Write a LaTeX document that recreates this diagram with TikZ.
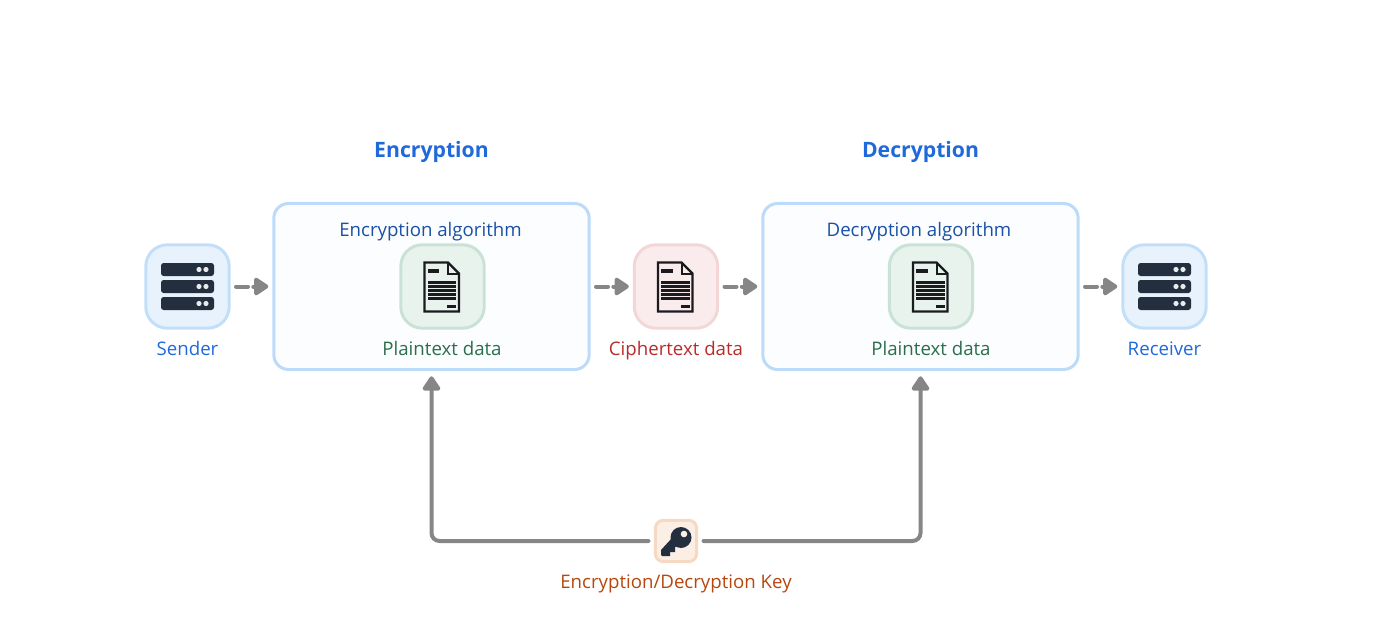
\documentclass[tikz,border=0pt]{standalone}
\usepackage{fontspec}
\setmainfont{Open Sans}
\usetikzlibrary{arrows.meta}

\definecolor{iconDark}{HTML}{232F3E}
\definecolor{docDark}{HTML}{1B1B1F}
\definecolor{arrowGrey}{HTML}{868686}
\definecolor{titleBlue}{HTML}{1F69DA}
\definecolor{algoBlue}{HTML}{1A50A5}
\definecolor{plainGreen}{HTML}{2C6E49}
\definecolor{cipherRed}{HTML}{B92C2C}
\definecolor{keyOrange}{HTML}{B5470F}
\definecolor{hostFill}{HTML}{E8F2FC}
\definecolor{hostEdge}{HTML}{C2DFFA}
\definecolor{algoFill}{HTML}{FBFDFF}
\definecolor{algoEdge}{HTML}{BCDBF8}
\definecolor{plainFill}{HTML}{E9F3EE}
\definecolor{plainEdge}{HTML}{CAE2D6}
\definecolor{cipherFill}{HTML}{FAECEC}
\definecolor{cipherEdge}{HTML}{F3D6D6}
\definecolor{keyFill}{HTML}{FBEEE4}
\definecolor{keyEdge}{HTML}{F6D9C3}

\tikzset{
  bigbox/.style={draw=algoEdge, fill=algoFill, line width=2.25pt, rounded corners=11pt, minimum width=236.5pt, minimum height=124.5pt},
  iconbox/.style={draw=#1Edge, fill=#1Fill, line width=2.25pt, rounded corners=16pt, minimum size=62.5pt},
  keybox/.style={draw=keyEdge, fill=keyFill, line width=2.25pt, rounded corners=6pt, minimum size=31pt},
  boxtitle/.style={text=titleBlue, anchor=base, font=\fontsize{15.9}{18}\selectfont\bfseries},
  caption/.style={text=#1, anchor=base, font=\fontsize{14}{16}\selectfont},
  flow/.style={draw=arrowGrey, line width=3pt, line cap=round, dash pattern=on 9pt off 4pt, shorten <=4pt, shorten >=3pt, -{Triangle[length=12pt, width=15pt, round]}},
  link/.style={draw=arrowGrey, line width=3pt, line cap=round, rounded corners=6pt, shorten <=4pt, shorten >=4pt, -{Triangle[length=12pt, width=15pt, round]}},
  servericon/.pic={
    \foreach \y in {-23.5, -6.5, 10.5} {
      \fill[iconDark, rounded corners=2pt] (-26.5,\y) rectangle (26.5,\y+13);
      \fill[white!90!iconDark] (11.5,\y+6.5) circle (2.6);
      \fill[white!90!iconDark] (18.5,\y+6.5) circle (2.6);
    }
  },
  docicon/.pic={
    \draw[docDark, line width=1.8pt, line join=miter] (-18,-24) -- (5.5,-24) -- (16.5,-13) -- (16.5,25) -- (-18,25) -- cycle;
    \draw[docDark, line width=1.5pt] (5.5,-24) -- (5.5,-13) -- (16.5,-13);
    \fill[docDark] (-15,-18) rectangle (-3.5,-14);
    \foreach \y in {-5.5, -1.5, 2.5, 6.5, 10.5} {
      \fill[docDark] (-15,\y) rectangle (13.5,\y+3);
    }
    \fill[docDark] (4.5,18.5) rectangle (13.5,21);
  },
  keyicon/.pic={
    \fill[iconDark] (5,-3.5) circle (10.5);
    \fill[iconDark] (-15,9) -- (-4,-3) -- (2,5) -- (-1,6) -- (-1,11) -- (-6,11) -- (-6,15) -- (-14,15) -- (-15,14) -- cycle;
    \fill[keyFill] (8,-7) circle (3.3);
  },
}

\begin{document}
\begin{tikzpicture}[x=0.75pt, y=-0.75pt]
\useasboundingbox (0,0) rectangle (1396,631);

\node[boxtitle] (enctitle) at (431.5,158) {Encryption};
\node[boxtitle] (dectitle) at (920.5,158) {Decryption};

\node[iconbox=host] (sender) at (187.5,286.5) {};
\node[bigbox] (encbox) at (431.5,286.5) {};
\node[iconbox=plain] (encplain) at (442.5,286.5) {};
\node[iconbox=cipher] (cipher) at (676,286.5) {};
\node[bigbox] (decbox) at (920.5,286.5) {};
\node[iconbox=plain] (decplain) at (931,286.5) {};
\node[iconbox=host] (receiver) at (1164.5,286.5) {};
\node[keybox] (key) at (676,541) {};

\pic at (187.5,286.5) {servericon};
\pic at (442.5,286.5) {docicon};
\pic at (676,286.5) {docicon};
\pic at (931,286.5) {docicon};
\pic at (1164.5,286.5) {servericon};
\pic at (676,541) {keyicon};

\node[caption=titleBlue] (senderlabel) at (187.5,355) {Sender};
\node[caption=algoBlue] (encalgo) at (430.5,236.5) {Encryption algorithm};
\node[caption=plainGreen] (encplainlabel) at (442,355) {Plaintext data};
\node[caption=cipherRed] (cipherlabel) at (676,355) {Ciphertext data};
\node[caption=algoBlue] (decalgo) at (919,236.5) {Decryption algorithm};
\node[caption=plainGreen] (decplainlabel) at (931,355) {Plaintext data};
\node[caption=titleBlue] (receiverlabel) at (1164.5,355) {Receiver};
\node[caption=keyOrange] (keylabel) at (676,588) {Encryption/Decryption Key};

\draw[flow] (sender) -- (encbox);
\draw[flow] (encbox) -- (cipher);
\draw[flow] (cipher) -- (decbox);
\draw[flow] (decbox) -- (receiver);

\draw[link] (key) -| (encbox);
\draw[link] (key) -| (decbox);

\end{tikzpicture}
\end{document}
